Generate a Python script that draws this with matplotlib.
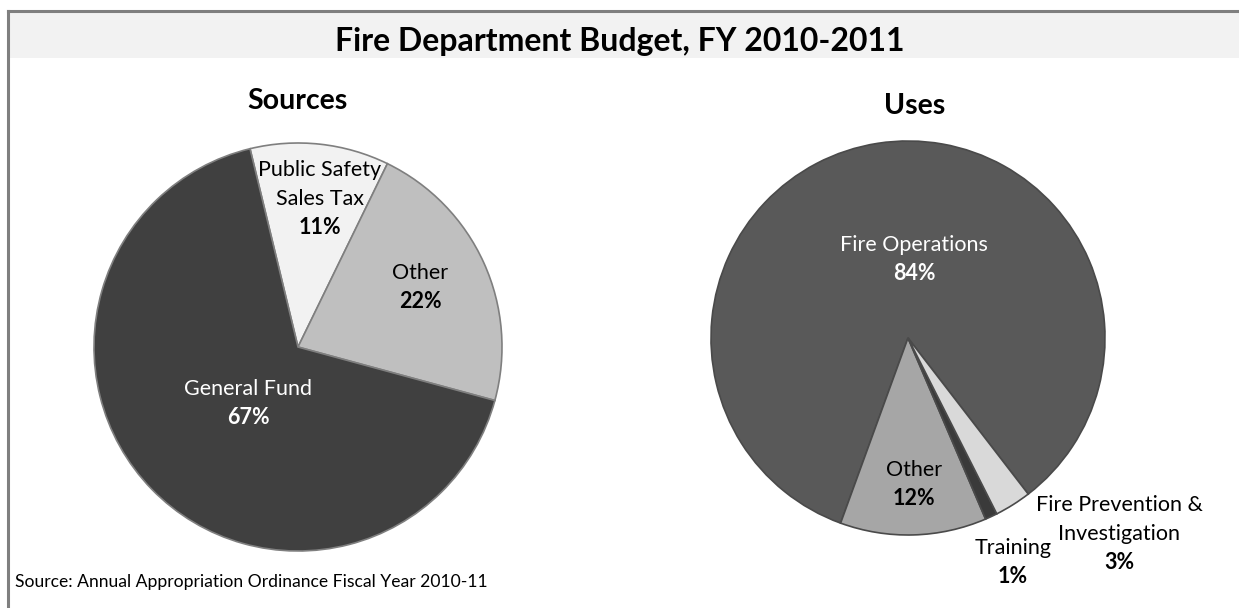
import matplotlib.pyplot as plt
from matplotlib.patches import Rectangle

plt.rcParams['font.family'] = ['Lato', 'DejaVu Sans']

W, H = 1239, 608

# budget shares, percent
source_labels = ["Public Safety\nSales Tax", "Other", "General Fund"]
source_values = [11, 22, 67]
source_colors = ["#f2f2f2", "#bfbfbf", "#404040"]
source_text = ["black", "black", "white"]

use_labels = ["Fire Operations", "Other", "Training", "Fire Prevention &\nInvestigation"]
use_values = [84, 12, 1, 3]
use_colors = ["#595959", "#a6a6a6", "#3a3a3a", "#d9d9d9"]
use_text = ["white", "black", "black", "black"]

# label anchors in pixels from top-left: centre of the first text line
source_pos = [(320, 170), (420, 273), (248, 389)]
use_pos = [(914, 245), (914, 470), (1013, 548), (1119, 505)]
LINE = 28.8


def fx(x):
    return x / W


def fy(y):
    return 1 - y / H


fig = plt.figure(figsize=(W / 100, H / 100), dpi=100)

# title band and frame
fig.patches.append(Rectangle((fx(8), fy(58)), 1, (58 - 12) / H, transform=fig.transFigure,
                             facecolor="#f2f2f2", edgecolor="none", zorder=0))
fig.add_artist(plt.Line2D([fx(8), fx(8)], [fy(11), 0], color="#7f7f7f", lw=2.2))
fig.add_artist(plt.Line2D([fx(8), 1], [fy(11), fy(11)], color="#7f7f7f", lw=2.2))

fig.text(fx(620), fy(42), "Fire Department Budget, FY 2010-2011", ha="center", va="center",
         fontsize=23, fontweight="bold")
fig.text(fx(297), fy(101), "Sources", ha="center", va="center", fontsize=20.5, fontweight="bold")
fig.text(fx(915), fy(106), "Uses", ha="center", va="center", fontsize=20.5, fontweight="bold")
fig.text(fx(15), fy(582), "Source: Annual Appropriation Ordinance Fiscal Year 2010-11",
         ha="left", va="center", fontsize=12.6)


def draw_pie(cx, cy, r, values, colors, start, ccw, edge):
    ax = fig.add_axes([fx(cx - r), fy(cy + r), 2 * r / W, 2 * r / H])
    ax.pie(values, colors=colors, startangle=start, counterclock=ccw,
           wedgeprops=dict(edgecolor=edge, linewidth=1.2))
    ax.set_xlim(-1, 1)
    ax.set_ylim(-1, 1)
    ax.axis("off")
    return ax


draw_pie(298, 347, 204, source_values, source_colors, 103.6, False, "#7f7f7f")
draw_pie(908, 338, 197, use_values, use_colors, -52.4, True, "#4a4a4a")


def put_labels(labels, values, pos, colors):
    for lab, v, (x, y), c in zip(labels, values, pos, colors):
        lines = lab.split("\n")
        for i, line in enumerate(lines):
            fig.text(fx(x), fy(y + LINE * i), line, ha="center", va="center",
                     fontsize=15.5, color=c)
        fig.text(fx(x), fy(y + LINE * len(lines)), f"{v}%", ha="center", va="center",
                 fontsize=15.5, fontweight="bold", color=c)


put_labels(source_labels, source_values, source_pos, source_text)
put_labels(use_labels, use_values, use_pos, use_text)

fig.savefig("out.png", dpi=100)
